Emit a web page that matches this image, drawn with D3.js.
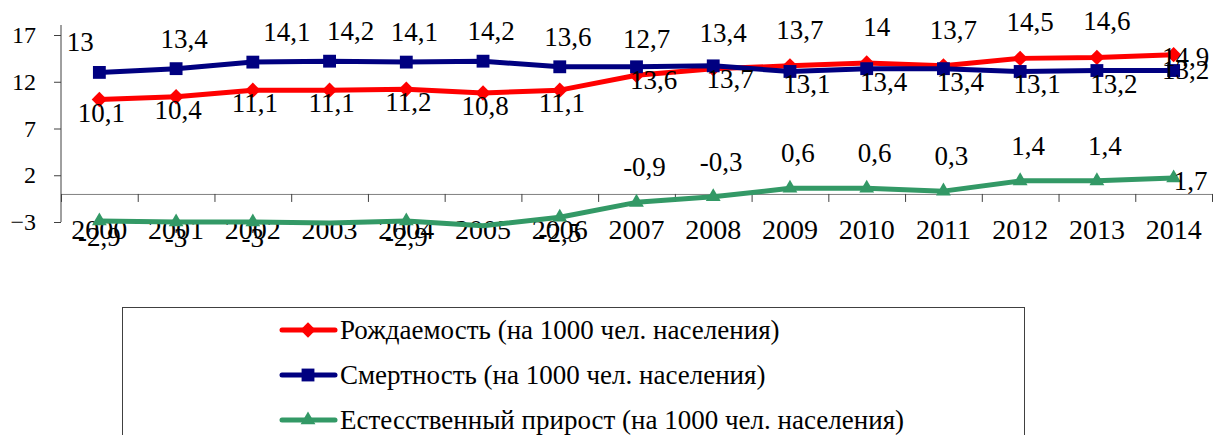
<!DOCTYPE html>
<html>
<head>
<meta charset="utf-8">
<script src="https://cdn.jsdelivr.net/npm/d3@7"></script>
<style>
  html, body { margin: 0; padding: 0; background: #fff; }
  svg, svg text { font-family: "Liberation Serif", "Times New Roman", serif; }
</style>
</head>
<body>
<svg width="1213" height="435"></svg>
<script>
// chart data
const years = [2000, 2001, 2002, 2003, 2004, 2005, 2006, 2007, 2008, 2009, 2010, 2011, 2012, 2013, 2014];
const birthRate = [10.1, 10.4, 11.1, 11.1, 11.2, 10.8, 11.1, 12.7, 13.4, 13.7, 14, 13.7, 14.5, 14.6, 14.9];
const deathRate = [13, 13.4, 14.1, 14.2, 14.1, 14.2, 13.6, 13.6, 13.7, 13.1, 13.4, 13.4, 13.1, 13.2, 13.2];
const naturalGrowth = [-2.9, -3, -3, -3.1, -2.9, -3.4, -2.5, -0.9, -0.3, 0.6, 0.6, 0.3, 1.4, 1.4, 1.7];
const yTicks = [17, 12, 7, 2, -3];

const series = [
  { name: 'Рождаемость (на 1000 чел. населения)', values: birthRate, color: '#ff0000', marker: 'diamond',
    off: { above: [10, -27], below: [2, 22], right: [12, 11] } },
  { name: 'Смертность (на 1000 чел. населения)', values: deathRate, color: '#000080', marker: 'square',
    off: { above: [8, -21], below: [17, 22], right: [12, 8] } },
  { name: 'Естесственный прирост (на 1000 чел. населения)', values: naturalGrowth, color: '#339966', marker: 'triangle',
    off: { above: [8, -26], below: [0, 25], right: [17, 12] } }
];

// hand-moved labels in the original
const labelNudge = { '1-0': -27, '1-2': 26, '1-3': 13 };

const FONT = '"Liberation Serif", "Times New Roman", serif';
const svg = d3.select('svg').attr('font-family', FONT);

const x = d3.scaleBand().domain(years).range([61, 1212]).padding(0);
const y = d3.scaleLinear().domain([-3, 17]).range([222, 35]);
const cx = d => x(d) + x.bandwidth() / 2;

// y axis
const yAxis = svg.append('g')
  .attr('transform', 'translate(61,0)')
  .call(d3.axisLeft(y).tickValues(yTicks).tickSize(7).tickPadding(18).tickSizeOuter(0))
  .attr('font-family', FONT)
  .attr('font-size', 24);
yAxis.select('.domain').remove();
yAxis.selectAll('line').attr('stroke', '#404040');
yAxis.selectAll('text').attr('fill', '#000');
svg.append('line')
  .attr('x1', 61).attr('x2', 61)
  .attr('y1', y(17) - 10).attr('y2', y(-3))
  .attr('stroke', '#404040');

// x axis at zero, ticks between categories
const xEdges = d3.scaleLinear().domain([0, years.length]).range(x.range());
const xAxis = svg.append('g')
  .attr('transform', `translate(0,${y(0)})`)
  .call(d3.axisBottom(xEdges).ticks(years.length).tickFormat('').tickSize(8).tickSizeOuter(0));
xAxis.select('.domain').attr('stroke', '#808080');
xAxis.selectAll('line').attr('stroke', '#404040');

svg.append('g').selectAll('text')
  .data(years)
  .join('text')
  .attr('x', d => cx(d))
  .attr('y', 239)
  .attr('text-anchor', 'middle')
  .attr('font-size', 28)
  .text(d => d);

// markers
const markerPath = {
  diamond: d3.symbol(d3.symbolSquare, 118)(),
  square: d3.symbol(d3.symbolSquare, 165)(),
  triangle: d3.symbol(d3.symbolTriangle, 95)()
};
const markerRot = { diamond: 45, square: 0, triangle: 0 };

const line = d3.line()
  .x((d, i) => cx(years[i]))
  .y(d => y(d));

series.forEach(s => {
  const g = svg.append('g');
  g.append('path')
    .datum(s.values)
    .attr('d', line)
    .attr('fill', 'none')
    .attr('stroke', s.color)
    .attr('stroke-width', 5)
    .attr('stroke-linejoin', 'round');
  g.selectAll('path.m')
    .data(s.values.map((v, i) => ({ v, i })).filter(d => d.v >= y.domain()[0]))
    .join('path')
    .attr('class', 'm')
    .attr('d', markerPath[s.marker])
    .attr('fill', s.color)
    .attr('transform', d => `translate(${cx(years[d.i])},${y(d.v)}) rotate(${markerRot[s.marker]})`);
});

// data labels: births go on top once the gap to deaths is small
const fmt = v => String(v).replace('.', ',');
const labels = svg.append('g').attr('font-size', 27);
series.forEach((s, si) => {
  s.values.forEach((v, i) => {
    if (v < y.domain()[0]) return;
    const close = naturalGrowth[i] > -2;
    let place;
    if (i === years.length - 1) place = 'right';
    else if (si === 2) place = close ? 'above' : 'below';
    else if (si === 0) place = close ? 'above' : 'below';
    else place = close ? 'below' : 'above';
    const [dx, dy] = s.off[place];
    labels.append('text')
      .attr('x', cx(years[i]) + dx + (labelNudge[si + '-' + i] || 0))
      .attr('y', y(v) + dy)
      .attr('text-anchor', 'middle')
      .text(fmt(v));
  });
});

// legend
const legend = svg.append('g');
legend.append('rect')
  .attr('x', 122.5).attr('y', 307.5)
  .attr('width', 902).attr('height', 160)
  .attr('fill', 'none')
  .attr('stroke', '#404040');

const item = legend.selectAll('g.item')
  .data(series)
  .join('g')
  .attr('class', 'item')
  .attr('transform', (d, i) => `translate(0,${330 + i * 45})`);
item.append('line')
  .attr('x1', 282).attr('x2', 335)
  .attr('stroke', d => d.color)
  .attr('stroke-width', 5)
  .attr('stroke-linecap', 'round');
item.append('path')
  .attr('d', d => markerPath[d.marker])
  .attr('fill', d => d.color)
  .attr('transform', d => `translate(308,0) rotate(${markerRot[d.marker]})`);
item.append('text')
  .attr('x', 340)
  .attr('y', 9)
  .attr('font-size', 27)
  .text(d => d.name);
</script>
</body>
</html>
